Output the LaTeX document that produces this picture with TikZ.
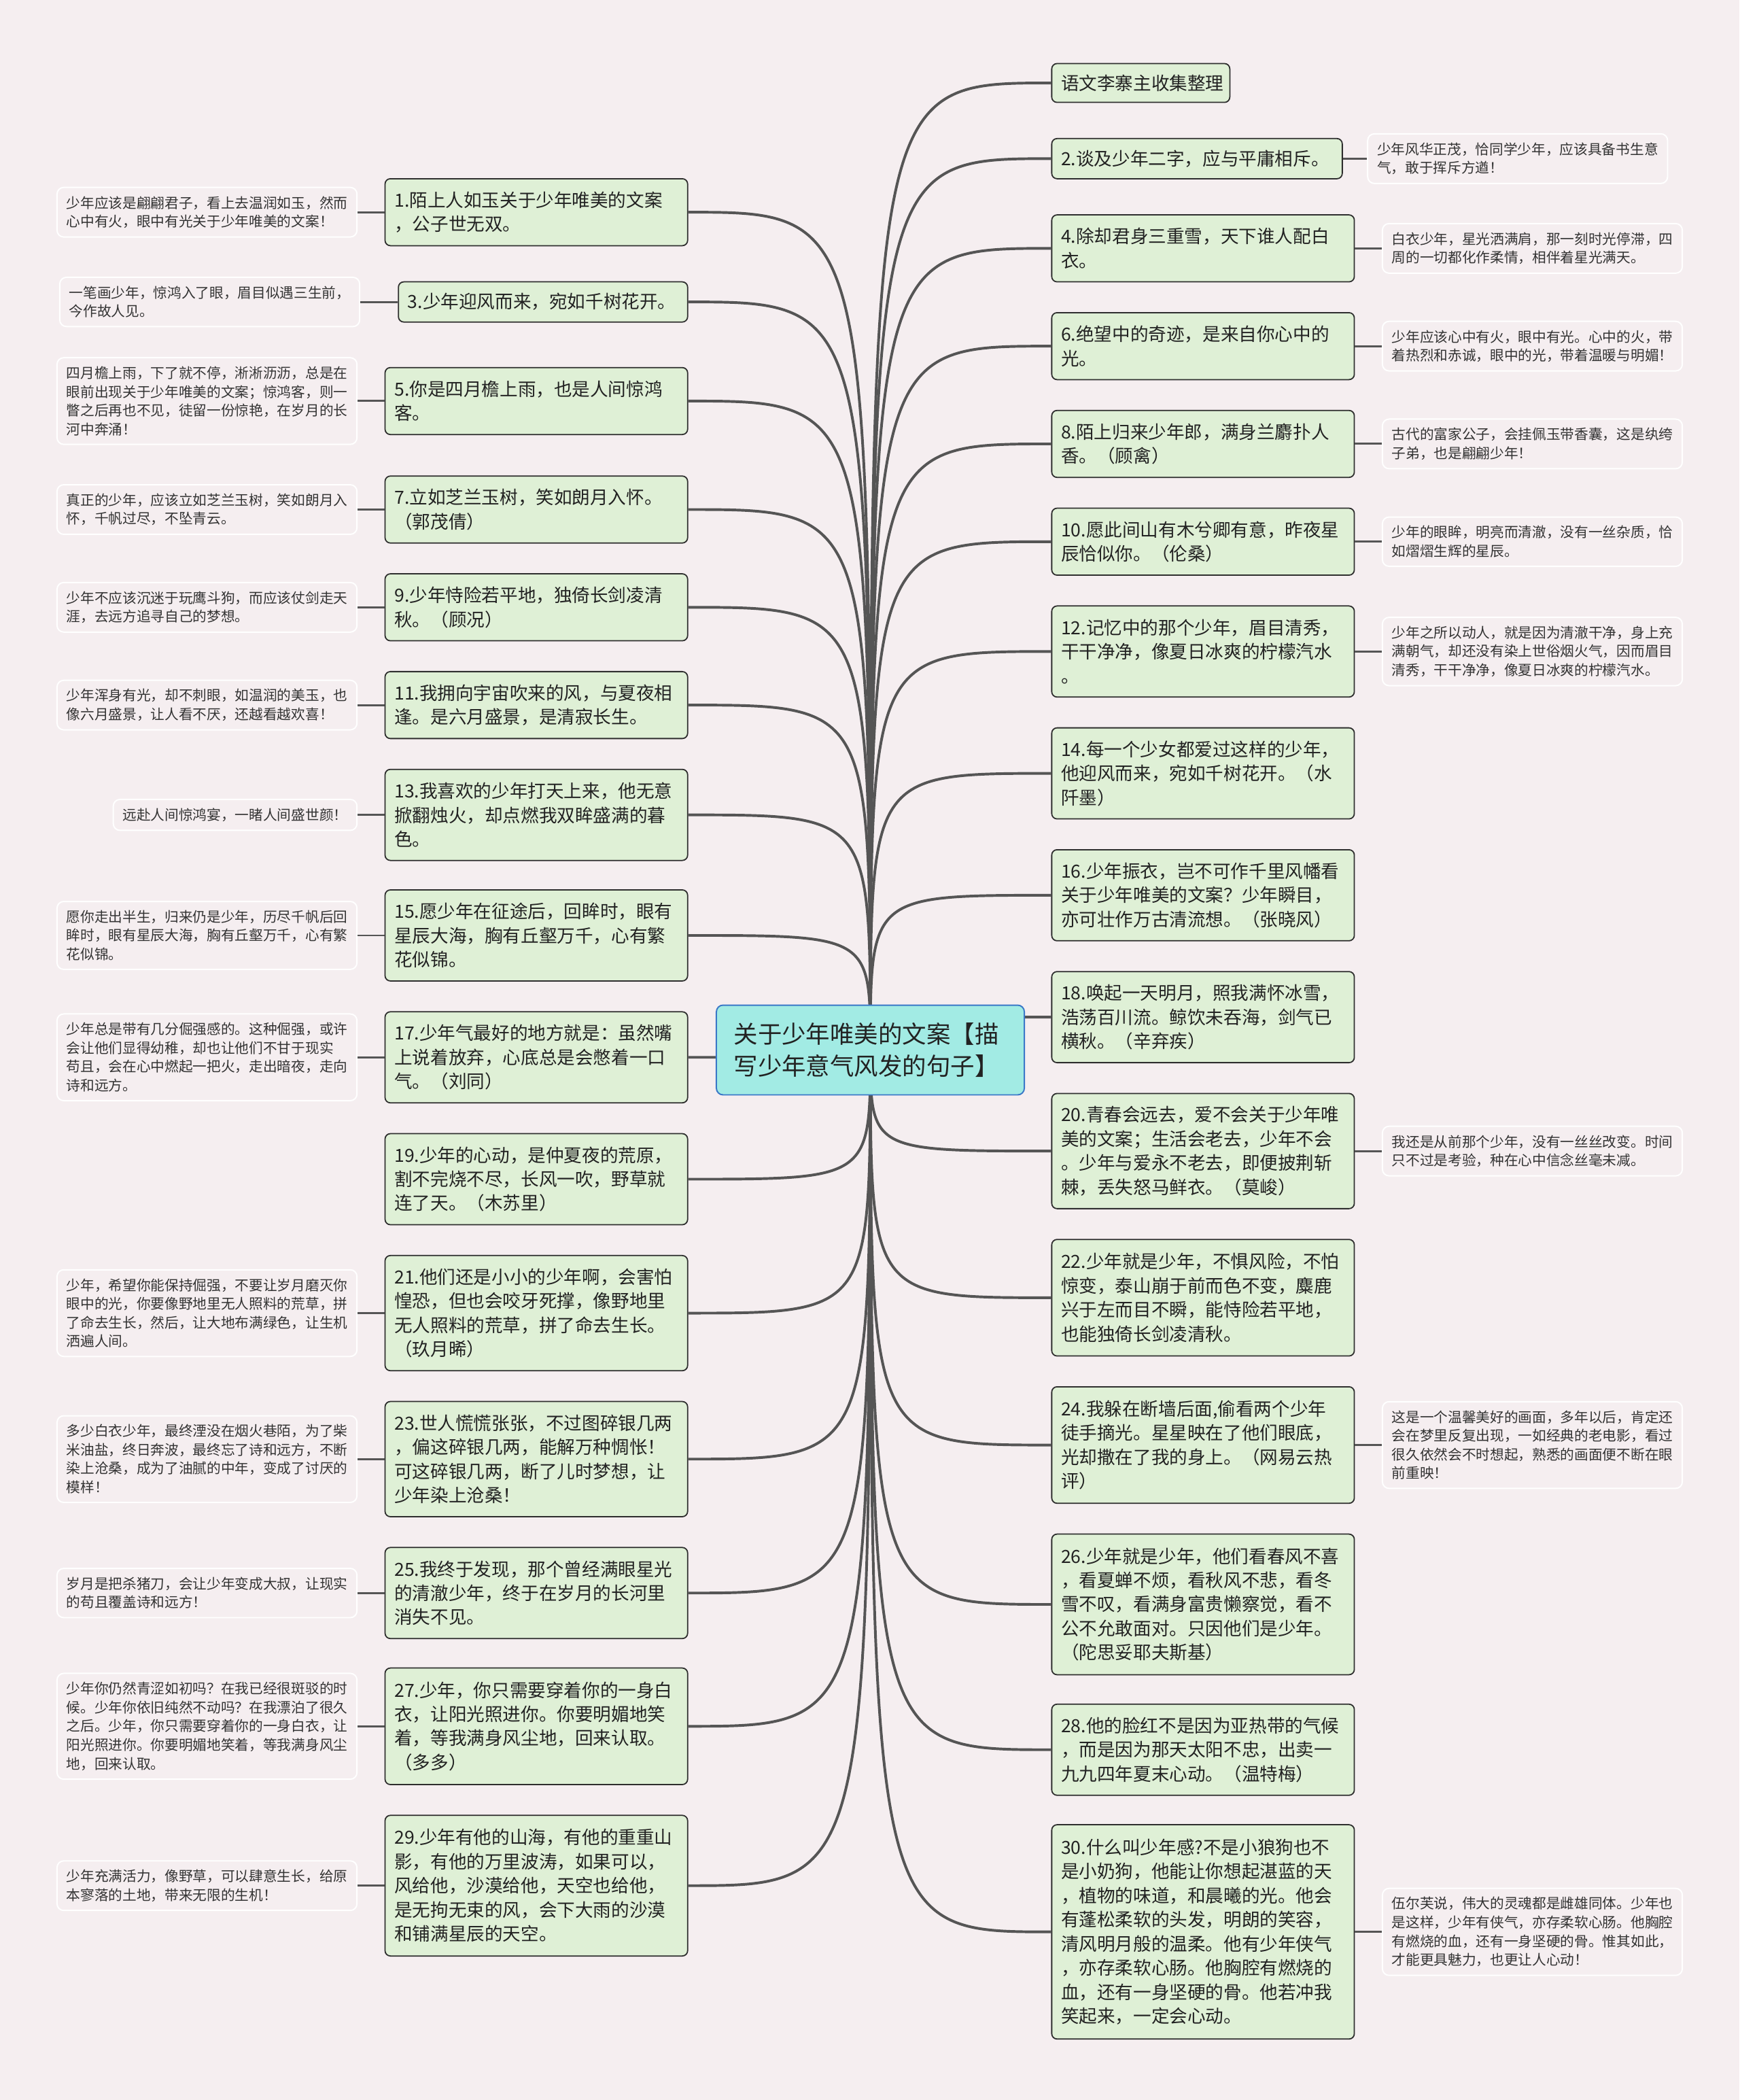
\documentclass[tikz,border=0pt]{standalone}
\usepackage{fontspec}
\setmainfont{Noto Sans CJK SC}
\usetikzlibrary{positioning}

\definecolor{canvas}{HTML}{F5EEF0}
\definecolor{topicfill}{HTML}{DFF0D6}
\definecolor{topicline}{HTML}{2E2E2E}
\definecolor{rootfill}{HTML}{A2EBE4}
\definecolor{rootline}{HTML}{3A78C8}
\definecolor{branchcol}{HTML}{555555}
\definecolor{ink}{HTML}{222222}
\definecolor{noteink}{HTML}{333333}

\pgfdeclarelayer{back}
\pgfsetlayers{back,main}

\begin{document}
\begin{tikzpicture}[x=1pt, y=-1pt,
    root/.style={draw=rootline, fill=rootfill, rounded corners=5pt, line width=1pt, align=left, text width=204pt, inner xsep=13pt, minimum height=67pt, text=ink, font=\fontsize{18}{24}\selectfont},
    topic/.style={draw=topicline, fill=topicfill, rounded corners=4pt, line width=0.9pt, align=left, text width=212pt, inner xsep=7pt, inner ysep=0pt, text=ink, font=\fontsize{13.5}{18}\selectfont},
    rtopic/.style={topic, anchor=north west},
    ltopic/.style={topic, anchor=north east},
    note/.style={draw=white, fill=canvas, rounded corners=5pt, line width=1pt, align=left, inner xsep=7pt, inner ysep=6.5pt, text=noteink, font=\fontsize{10.5}{14}\selectfont},
    branch/.style={draw=branchcol, line width=2pt},
    leaf/.style={draw=branchcol, line width=1.5pt}
]
    \begin{pgfonlayer}{back}
        \fill[canvas] (0,0) rectangle (1299,1568);
    \end{pgfonlayer}
    \useasboundingbox (0,0) rectangle (1299,1568);

    \node[root] (root) at (650,784) {关于少年唯美的文案【描\\写少年意气风发的句子】};

    % right side
    \node[rtopic, text width=119pt, minimum height=29pt] (t0) at (785,47) {语文李寨主收集整理};
    \node[rtopic, text width=203pt, minimum height=30pt] (t2) at (785,103) {2.谈及少年二字，应与平庸相斥。};
    \node[rtopic, minimum height=50pt] (t4) at (785,160) {4.除却君身三重雪，天下谁人配白\\衣。};
    \node[rtopic, minimum height=50pt] (t6) at (785,233) {6.绝望中的奇迹，是来自你心中的\\光。};
    \node[rtopic, minimum height=50pt] (t8) at (785,306) {8.陌上归来少年郎，满身兰麝扑人\\香。（顾禽）};
    \node[rtopic, minimum height=50pt] (t10) at (785,379) {10.愿此间山有木兮卿有意，昨夜星\\辰恰似你。（伦桑）};
    \node[rtopic, minimum height=68pt] (t12) at (785,452) {12.记忆中的那个少年，眉目清秀，\\干干净净，像夏日冰爽的柠檬汽水\\。};
    \node[rtopic, minimum height=68pt] (t14) at (785,543) {14.每一个少女都爱过这样的少年，\\他迎风而来，宛如千树花开。（水\\阡墨）};
    \node[rtopic, minimum height=68pt] (t16) at (785,634) {16.少年振衣，岂不可作千里风幡看\\关于少年唯美的文案？少年瞬目，\\亦可壮作万古清流想。（张晓风）};
    \node[rtopic, minimum height=68pt] (t18) at (785,725) {18.唤起一天明月，照我满怀冰雪，\\浩荡百川流。鲸饮未吞海，剑气已\\横秋。（辛弃疾）};
    \node[rtopic, minimum height=86pt] (t20) at (785,816) {20.青春会远去，爱不会关于少年唯\\美的文案；生活会老去，少年不会\\。少年与爱永不老去，即便披荆斩\\棘，丢失怒马鲜衣。（莫峻）};
    \node[rtopic, minimum height=87pt] (t22) at (785,925) {22.少年就是少年，不惧风险，不怕\\惊变，泰山崩于前而色不变，麋鹿\\兴于左而目不瞬，能恃险若平地，\\也能独倚长剑凌清秋。};
    \node[rtopic, minimum height=87pt] (t24) at (785,1035) {24.我躲在断墙后面,偷看两个少年\\徒手摘光。星星映在了他们眼底，\\光却撒在了我的身上。（网易云热\\评）};
    \node[rtopic, minimum height=105pt] (t26) at (785,1145) {26.少年就是少年，他们看春风不喜\\，看夏蝉不烦，看秋风不悲，看冬\\雪不叹，看满身富贵懒察觉，看不\\公不允敢面对。只因他们是少年。\\（陀思妥耶夫斯基）};
    \node[rtopic, minimum height=68pt] (t28) at (785,1272) {28.他的脸红不是因为亚热带的气候\\，而是因为那天太阳不忠，出卖一\\九九四年夏末心动。（温特梅）};
    \node[rtopic, minimum height=160pt] (t30) at (785,1362) {30.什么叫少年感?不是小狼狗也不\\是小奶狗，他能让你想起湛蓝的天\\，植物的味道，和晨曦的光。他会\\有蓬松柔软的头发，明朗的笑容，\\清风明月般的温柔。他有少年侠气\\，亦存柔软心肠。他胸腔有燃烧的\\血，还有一身坚硬的骨。他若冲我\\笑起来，一定会心动。};

    % left side
    \node[ltopic, minimum height=50pt] (t1) at (514,133) {1.陌上人如玉关于少年唯美的文案\\，公子世无双。};
    \node[ltopic, text width=202pt, minimum height=30pt] (t3) at (514,210) {3.少年迎风而来，宛如千树花开。};
    \node[ltopic, minimum height=50pt] (t5) at (514,274) {5.你是四月檐上雨，也是人间惊鸿\\客。};
    \node[ltopic, minimum height=50pt] (t7) at (514,355) {7.立如芝兰玉树，笑如朗月入怀。\\（郭茂倩）};
    \node[ltopic, minimum height=50pt] (t9) at (514,428) {9.少年恃险若平地，独倚长剑凌清\\秋。（顾况）};
    \node[ltopic, minimum height=50pt] (t11) at (514,501) {11.我拥向宇宙吹来的风，与夏夜相\\逢。是六月盛景，是清寂长生。};
    \node[ltopic, minimum height=68pt] (t13) at (514,574) {13.我喜欢的少年打天上来，他无意\\掀翻烛火，却点燃我双眸盛满的暮\\色。};
    \node[ltopic, minimum height=68pt] (t15) at (514,664) {15.愿少年在征途后，回眸时，眼有\\星辰大海，胸有丘壑万千，心有繁\\花似锦。};
    \node[ltopic, minimum height=68pt] (t17) at (514,755) {17.少年气最好的地方就是：虽然嘴\\上说着放弃，心底总是会憋着一口\\气。（刘同）};
    \node[ltopic, minimum height=68pt] (t19) at (514,846) {19.少年的心动，是仲夏夜的荒原，\\割不完烧不尽，长风一吹，野草就\\连了天。（木苏里）};
    \node[ltopic, minimum height=86pt] (t21) at (514,937) {21.他们还是小小的少年啊，会害怕\\惶恐，但也会咬牙死撑，像野地里\\无人照料的荒草，拼了命去生长。\\（玖月晞）};
    \node[ltopic, minimum height=86pt] (t23) at (514,1046) {23.世人慌慌张张，不过图碎银几两\\，偏这碎银几两，能解万种惆怅！\\可这碎银几两，断了儿时梦想，让\\少年染上沧桑！};
    \node[ltopic, minimum height=68pt] (t25) at (514,1155) {25.我终于发现，那个曾经满眼星光\\的清澈少年，终于在岁月的长河里\\消失不见。};
    \node[ltopic, minimum height=87pt] (t27) at (514,1245) {27.少年，你只需要穿着你的一身白\\衣，让阳光照进你。你要明媚地笑\\着，等我满身风尘地，回来认取。\\（多多）};
    \node[ltopic, minimum height=105pt] (t29) at (514,1355) {29.少年有他的山海，有他的重重山\\影，有他的万里波涛，如果可以，\\风给他，沙漠给他，天空也给他，\\是无拘无束的风，会下大雨的沙漠\\和铺满星辰的天空。};

    % notes on the right
    \node[note, right=18pt of t2] (n2) {少年风华正茂，恰同学少年，应该具备书生意\\气，敢于挥斥方遒！};
    \node[note, right=20pt of t4] (n4) {白衣少年，星光洒满肩，那一刻时光停滞，四\\周的一切都化作柔情，相伴着星光满天。};
    \node[note, right=20pt of t6] (n6) {少年应该心中有火，眼中有光。心中的火，带\\着热烈和赤诚，眼中的光，带着温暖与明媚！};
    \node[note, right=20pt of t8] (n8) {古代的富家公子，会挂佩玉带香囊，这是纨绔\\子弟，也是翩翩少年！};
    \node[note, right=20pt of t10] (n10) {少年的眼眸，明亮而清澈，没有一丝杂质，恰\\如熠熠生辉的星辰。};
    \node[note, right=20pt of t12] (n12) {少年之所以动人，就是因为清澈干净，身上充\\满朝气，却还没有染上世俗烟火气，因而眉目\\清秀，干干净净，像夏日冰爽的柠檬汽水。};
    \node[note, right=20pt of t20] (n20) {我还是从前那个少年，没有一丝丝改变。时间\\只不过是考验，种在心中信念丝毫未减。};
    \node[note, right=20pt of t24] (n24) {这是一个温馨美好的画面，多年以后，肯定还\\会在梦里反复出现，一如经典的老电影，看过\\很久依然会不时想起，熟悉的画面便不断在眼\\前重映！};
    \node[note, right=20pt of t30] (n30) {伍尔芙说，伟大的灵魂都是雌雄同体。少年也\\是这样，少年有侠气，亦存柔软心肠。他胸腔\\有燃烧的血，还有一身坚硬的骨。惟其如此，\\才能更具魅力，也更让人心动！};

    % notes on the left
    \node[note, left=20pt of t1] (n1) {少年应该是翩翩君子，看上去温润如玉，然而\\心中有火，眼中有光关于少年唯美的文案！};
    \node[note, left=28pt of t3] (n3) {一笔画少年，惊鸿入了眼，眉目似遇三生前，\\今作故人见。};
    \node[note, left=20pt of t5] (n5) {四月檐上雨，下了就不停，淅淅沥沥，总是在\\眼前出现关于少年唯美的文案；惊鸿客，则一\\瞥之后再也不见，徒留一份惊艳，在岁月的长\\河中奔涌！};
    \node[note, left=20pt of t7] (n7) {真正的少年，应该立如芝兰玉树，笑如朗月入\\怀，千帆过尽，不坠青云。};
    \node[note, left=20pt of t9] (n9) {少年不应该沉迷于玩鹰斗狗，而应该仗剑走天\\涯，去远方追寻自己的梦想。};
    \node[note, left=20pt of t11] (n11) {少年浑身有光，却不刺眼，如温润的美玉，也\\像六月盛景，让人看不厌，还越看越欢喜！};
    \node[note, left=20pt of t13] (n13) {远赴人间惊鸿宴，一睹人间盛世颜！};
    \node[note, left=20pt of t15] (n15) {愿你走出半生，归来仍是少年，历尽千帆后回\\眸时，眼有星辰大海，胸有丘壑万千，心有繁\\花似锦。};
    \node[note, left=20pt of t17] (n17) {少年总是带有几分倔强感的。这种倔强，或许\\会让他们显得幼稚，却也让他们不甘于现实\\苟且，会在心中燃起一把火，走出暗夜，走向\\诗和远方。};
    \node[note, left=20pt of t21] (n21) {少年，希望你能保持倔强，不要让岁月磨灭你\\眼中的光，你要像野地里无人照料的荒草，拼\\了命去生长，然后，让大地布满绿色，让生机\\洒遍人间。};
    \node[note, left=20pt of t23] (n23) {多少白衣少年，最终湮没在烟火巷陌，为了柴\\米油盐，终日奔波，最终忘了诗和远方，不断\\染上沧桑，成为了油腻的中年，变成了讨厌的\\模样！};
    \node[note, left=20pt of t25] (n25) {岁月是把杀猪刀，会让少年变成大叔，让现实\\的苟且覆盖诗和远方！};
    \node[note, left=20pt of t27] (n27) {少年你仍然青涩如初吗？在我已经很斑驳的时\\候。少年你依旧纯然不动吗？在我漂泊了很久\\之后。少年，你只需要穿着你的一身白衣，让\\阳光照进你。你要明媚地笑着，等我满身风尘\\地，回来认取。};
    \node[note, left=20pt of t29] (n29) {少年充满活力，像野草，可以肆意生长，给原\\本寥落的土地，带来无限的生机！};

    % branches go under the boxes
    \begin{pgfonlayer}{back}
    \draw[branch] (root.center) .. controls (root.center |- t0.west) .. (t0.west);
    \draw[branch] (root.center) .. controls (root.center |- t2.west) .. (t2.west);
    \draw[branch] (root.center) .. controls (root.center |- t4.west) .. (t4.west);
    \draw[branch] (root.center) .. controls (root.center |- t6.west) .. (t6.west);
    \draw[branch] (root.center) .. controls (root.center |- t8.west) .. (t8.west);
    \draw[branch] (root.center) .. controls (root.center |- t10.west) .. (t10.west);
    \draw[branch] (root.center) .. controls (root.center |- t12.west) .. (t12.west);
    \draw[branch] (root.center) .. controls (root.center |- t14.west) .. (t14.west);
    \draw[branch] (root.center) .. controls (root.center |- t16.west) .. (t16.west);
    \draw[branch] (root.center) .. controls (root.center |- t18.west) .. (t18.west);
    \draw[branch] (root.center) .. controls (root.center |- t20.west) .. (t20.west);
    \draw[branch] (root.center) .. controls (root.center |- t22.west) .. (t22.west);
    \draw[branch] (root.center) .. controls (root.center |- t24.west) .. (t24.west);
    \draw[branch] (root.center) .. controls (root.center |- t26.west) .. (t26.west);
    \draw[branch] (root.center) .. controls (root.center |- t28.west) .. (t28.west);
    \draw[branch] (root.center) .. controls (root.center |- t30.west) .. (t30.west);

    \draw[branch] (root.center) .. controls (root.center |- t1.east) .. (t1.east);
    \draw[branch] (root.center) .. controls (root.center |- t3.east) .. (t3.east);
    \draw[branch] (root.center) .. controls (root.center |- t5.east) .. (t5.east);
    \draw[branch] (root.center) .. controls (root.center |- t7.east) .. (t7.east);
    \draw[branch] (root.center) .. controls (root.center |- t9.east) .. (t9.east);
    \draw[branch] (root.center) .. controls (root.center |- t11.east) .. (t11.east);
    \draw[branch] (root.center) .. controls (root.center |- t13.east) .. (t13.east);
    \draw[branch] (root.center) .. controls (root.center |- t15.east) .. (t15.east);
    \draw[branch] (root.center) .. controls (root.center |- t17.east) .. (t17.east);
    \draw[branch] (root.center) .. controls (root.center |- t19.east) .. (t19.east);
    \draw[branch] (root.center) .. controls (root.center |- t21.east) .. (t21.east);
    \draw[branch] (root.center) .. controls (root.center |- t23.east) .. (t23.east);
    \draw[branch] (root.center) .. controls (root.center |- t25.east) .. (t25.east);
    \draw[branch] (root.center) .. controls (root.center |- t27.east) .. (t27.east);
    \draw[branch] (root.center) .. controls (root.center |- t29.east) .. (t29.east);
    \end{pgfonlayer}

    % short links to the notes
    \draw[leaf] (t2.east) -- (n2.west);
    \draw[leaf] (t4.east) -- (n4.west);
    \draw[leaf] (t6.east) -- (n6.west);
    \draw[leaf] (t8.east) -- (n8.west);
    \draw[leaf] (t10.east) -- (n10.west);
    \draw[leaf] (t12.east) -- (n12.west);
    \draw[leaf] (t20.east) -- (n20.west);
    \draw[leaf] (t24.east) -- (n24.west);
    \draw[leaf] (t30.east) -- (n30.west);

    \draw[leaf] (n1.east) -- (t1.west);
    \draw[leaf] (n3.east) -- (t3.west);
    \draw[leaf] (n5.east) -- (t5.west);
    \draw[leaf] (n7.east) -- (t7.west);
    \draw[leaf] (n9.east) -- (t9.west);
    \draw[leaf] (n11.east) -- (t11.west);
    \draw[leaf] (n13.east) -- (t13.west);
    \draw[leaf] (n15.east) -- (t15.west);
    \draw[leaf] (n17.east) -- (t17.west);
    \draw[leaf] (n21.east) -- (t21.west);
    \draw[leaf] (n23.east) -- (t23.west);
    \draw[leaf] (n25.east) -- (t25.west);
    \draw[leaf] (n27.east) -- (t27.west);
    \draw[leaf] (n29.east) -- (t29.west);
\end{tikzpicture}
\end{document}
